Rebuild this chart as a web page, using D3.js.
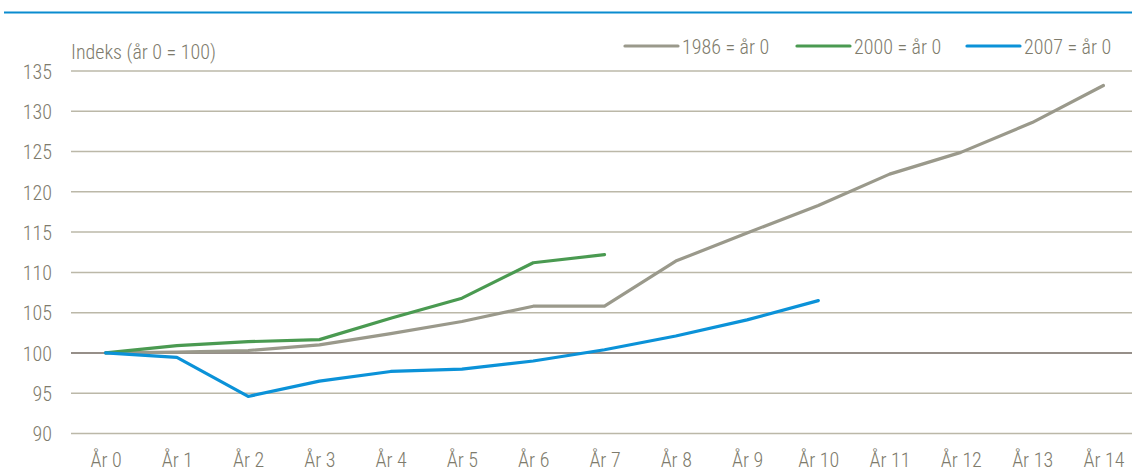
<!DOCTYPE html>
<html><head><meta charset="utf-8">
<script src="https://cdn.jsdelivr.net/npm/d3@7"></script>
<style>
html,body{margin:0;padding:0;background:#fff;}
svg{display:block;}
text{font-family:"Roboto Condensed",sans-serif;font-weight:300;fill:#7e7b6c;}
</style></head>
<body>
<script>
const categories = ["År 0","År 1","År 2","År 3","År 4","År 5","År 6","År 7","År 8","År 9","År 10","År 11","År 12","År 13","År 14"];
const yTicks = [90,95,100,105,110,115,120,125,130,135];
const series1986 = [100,100.1,100.3,101.0,102.4,103.9,105.8,105.8,111.4,114.9,118.3,122.2,124.9,128.6,133.2];
const series2000 = [100,100.9,101.4,101.65,104.3,106.8,111.2,112.2];
const series2007 = [100,99.45,94.6,96.5,97.7,98.0,99.0,100.4,102.1,104.1,106.5];
const seriesNames = ["1986 = år 0","2000 = år 0","2007 = år 0"];
const seriesColors = ["#9a998b","#4a9a51","#0b92d8"];
const yLabel = "Indeks (år 0 = 100)";

const W = 1132, H = 475;
const FS = 20;
const svg = d3.select("body").append("svg").attr("width", W).attr("height", H);

const x = d3.scalePoint().domain(categories).range([105.6, 1103.4]);
const y = d3.scaleLinear().domain([90,135]).range([433.5, 71]);
const gridL = 71, gridR = W;

// top rule
svg.append("line").attr("x1",4).attr("x2",W).attr("y1",12.5).attr("y2",12.5)
  .attr("stroke","#0a8ccf").attr("stroke-width",2.2);

// gridlines
svg.append("g").selectAll("line").data(yTicks).join("line")
  .attr("x1",gridL).attr("x2",gridR)
  .attr("y1",d=>y(d)).attr("y2",d=>y(d))
  .attr("stroke",d=>d===100?"#736a62":"#bbb8a8")
  .attr("stroke-width",d=>d===100?1.6:1.5);

// y axis labels
const yAxis = d3.axisLeft(y).tickValues(yTicks).tickSize(0).tickPadding(0);
const gy = svg.append("g").attr("transform","translate(52,0)").call(yAxis);
gy.select(".domain").remove();
gy.selectAll("text").attr("font-size",FS).attr("fill","#7e7b6c")
  .attr("font-family",null).attr("dy","0.36em");

// x axis labels
const xAxis = d3.axisBottom(x).tickSize(0).tickPadding(0);
const gx = svg.append("g").attr("transform","translate(0,452)").call(xAxis);
gx.select(".domain").remove();
gx.selectAll("text").attr("font-size",FS).attr("fill","#7e7b6c")
  .attr("font-family",null).attr("dy","0.76em");

// y label
svg.append("text").attr("x",71).attr("y",59).attr("font-size",FS).text(yLabel);

// lines
const allSeries = [series1986, series2000, series2007];
const line = d3.line().x((d,i)=>x(categories[i])).y(d=>y(d));
svg.append("g").selectAll("path").data(allSeries).join("path")
  .attr("d", d=>line(d))
  .attr("fill","none")
  .attr("stroke",(d,i)=>seriesColors[i])
  .attr("stroke-width",3.2)
  .attr("stroke-linecap","round")
  .attr("stroke-linejoin","round");

// legend
const legendX = [625, 797, 967];
const lg = svg.append("g").selectAll("g").data(seriesNames).join("g")
  .attr("transform",(d,i)=>`translate(${legendX[i]},46)`);
lg.append("line").attr("x1",0).attr("x2",53).attr("y1",0).attr("y2",0)
  .attr("stroke",(d,i)=>seriesColors[i]).attr("stroke-width",3.2).attr("stroke-linecap","round");
lg.append("text").attr("x",57).attr("y",8).attr("font-size",FS).text(d=>d);
</script>
</body></html>
